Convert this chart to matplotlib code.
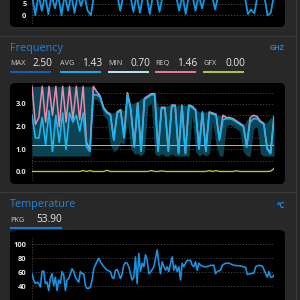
import matplotlib
matplotlib.use("Agg")
import matplotlib.pyplot as plt
from matplotlib.patches import FancyBboxPatch, Rectangle

# ---- data ----
# top (cut off) panel, load
load = [9, 0, 9, 2, 9, 0.5, 9, 3, 9, 0, 9, 2, 9, 1, 9, 4, 9, 2, 0, 9,
        9, 9, 9, 9, 9, 9, 9, 2, 9, 9, 9, 1.5, 9, 1, 9, 9, 0.5, 9, 9, 1.5,
        9, 9, 9, 9, 9, 2, 9, 0.5, 9, 9, 2, 9, 3, 9, 9, 9, 2.5, 9, 9, 9,
        9, 9, 9, 9, 9, 9, 0.5, 2.5, 0.8, 9, 9, 9, 0, 1, 9]
load_ticks = [0, 5]

# frequency panel (GHz)
freq_avg = [2.5, 1.5, 1.5, 2.4, 1.2, 2.7, 0.9, 2.5, 1.3, 2.6, 1.0, 2.6, 2.2, 2.5, 1.8, 2.6, 1.1, 0.9,
            3.4, 3.4, 3.3, 2.8, 2.6, 2.5, 1.4, 2.6, 2.7, 1.5, 3.45, 2.7, 1.1, 3.0, 0.9, 3.2, 3.3, 3.4,
            3.4, 0.9, 2.8, 2.8, 0.9, 2.9, 2.9, 0.8, 2.9, 0.8, 2.9, 2.85, 2.7, 1.0, 2.6, 0.9, 2.6, 2.55,
            2.5, 1.4, 2.3, 2.35, 2.35, 2.3, 2.2, 2.1, 2.0, 1.1, 2.2, 2.35, 2.35, 2.2, 2.1, 1.0, 0.8, 2.4]
freq_req = [3.78, 2.1, 2.4, 3.78, 2.2, 3.78, 2.5, 3.78, 2.0, 3.78, 2.2, 3.78, 2.3, 3.78, 2.3, 3.78, 1.3, 1.0,
            3.78, 3.55, 3.35, 2.85, 2.65, 2.55, 1.45, 2.65, 2.75, 1.55, 3.5, 2.75, 1.15, 3.05, 0.95, 3.25, 3.35, 3.45,
            3.45, 0.95, 2.85, 2.85, 0.95, 2.95, 2.95, 0.85, 2.95, 0.85, 2.95, 2.9, 2.75, 1.05, 2.65, 0.95, 2.65, 2.6,
            2.55, 1.45, 2.5, 2.4, 2.4, 2.35, 2.25, 2.15, 2.05, 1.15, 2.4, 2.5, 2.45, 2.25, 2.15, 1.05, 0.85, 2.45]
freq_max = [3.78] * 18 + [3.78, 3.55, 3.35, 2.9, 2.7, 2.6, 2.6, 2.7, 2.8, 2.7, 3.5, 3.0, 3.05, 3.1, 3.25, 3.3, 3.4, 3.45,
                          3.45, 2.9, 2.9, 2.9, 2.95, 2.95, 2.95, 2.95, 2.95, 2.95, 2.95, 2.9, 2.75, 2.65, 2.65, 2.65,
                          2.65, 2.6, 2.55, 2.5, 2.5, 2.4, 2.4, 2.35, 2.25, 2.15, 2.05, 2.3, 2.4, 2.5, 2.45, 2.25, 2.15,
                          2.2, 2.4, 2.45]
freq_min = [0.7] * 18 + [3.2, 3.2, 3.0, 2.5, 2.3, 1.2, 0.9, 1.0, 1.3, 1.2, 2.2, 1.0, 0.8, 0.8, 0.7, 0.9, 2.9, 3.0,
                         0.8, 0.7, 0.8, 0.7, 0.7, 0.8, 0.7, 0.7, 0.7, 0.7, 0.7, 2.5, 0.9, 0.7, 0.8, 0.7, 0.8, 2.2,
                         1.2, 0.7, 0.7, 2.0, 2.1, 2.0, 1.9, 1.8, 0.9, 0.7, 0.7, 1.9, 2.0, 0.8, 0.7, 0.7, 0.7, 0.7]
freq_gfx = [0.02, 0.02, 0.02, 0.02, 0.02, 0.02, 0.02, 0.02, 0.02, 0.02, 0.02, 0.02, 0.02, 0.02, 0.02, 0.06, 0.02, 0.06,
            0.02, 0.02, 0.02, 0.02, 0.07, 0.02, 0.02, 0.02, 0.02, 0.02, 0.02, 0.02, 0.02, 0.02, 0.02, 0.02, 0.02, 0.06,
            0.02, 0.02, 0.05, 0.02, 0.02, 0.02, 0.02, 0.02, 0.02, 0.02, 0.02, 0.02, 0.02, 0.02, 0.02, 0.02, 0.06, 0.02,
            0.06, 0.02, 0.02, 0.02, 0.02, 0.02, 0.05, 0.02, 0.02, 0.02, 0.02, 0.02, 0.02, 0.02, 0.02, 0.02, 0.03, 0.15]
freq_ref = 1.18
freq_ticks = [0.0, 1.0, 2.0, 3.0]
freq_stats = [("MAX", "2.50"), ("AVG", "1.43"), ("MIN", "0.70"), ("REQ", "1.46"), ("GFX", "0.00")]

# temperature panel (°C)
temp_t = list(range(0, 38)) + [39, 40, 41, 43, 45, 47] + list(range(48, 72)) + \
         [73, 75, 76, 77, 78, 79, 80, 81, 82, 83, 84, 85, 86, 87, 88, 89, 90, 91, 92, 93, 95, 96, 97, 98, 99,
          100, 101, 103, 105, 107, 109, 110, 111, 113, 114, 116, 118, 121, 125, 128, 129, 131, 133, 134, 136,
          138, 140, 141, 142, 143, 144, 145]
temp = [58, 49, 44, 46, 44, 39, 61, 62, 44, 46, 34, 51, 58, 41, 53, 34, 49, 44, 61, 56,
        34, 49, 51, 58, 65, 61, 53, 49, 46, 61, 58, 58, 41, 37, 37, 39, 49, 65, 76, 80,
        75, 68, 63, 61, 53, 51, 63, 64, 58, 51, 58, 70, 74, 73, 68, 58, 49, 53, 82, 44,
        87, 61, 73, 68, 85, 77, 58, 60,
        68, 92, 73, 58, 75, 68, 63, 68, 61, 73, 82, 63, 70, 61, 68, 49, 73, 68, 73, 77, 77,
        70, 68, 75, 63, 73, 70, 68, 68, 70, 70, 58, 61, 63, 70, 73, 73, 70, 69, 67, 57, 58,
        59, 68, 70, 69, 58, 53, 61, 53, 53, 56]
temp_ticks = [40, 60, 80, 100]
pkg_value = "53.90"

# ---- colours ----
BG = "#282828"
BLUE_TITLE = "#1d84dc"
stat_colors = ["#0b62b8", "#19aae6", "#b8e0f0", "#e27a9c", "#a6c83a"]

W = H = 300.0
fig = plt.figure(figsize=(3, 3), dpi=100, facecolor=BG)
plt.rcParams['font.family'] = ['Open Sans', 'DejaVu Sans']


def fig_ax(x0, y0, x1, y1):
    ax = fig.add_axes([x0 / W, 1 - y1 / H, (x1 - x0) / W, (y1 - y0) / H])
    ax.set_facecolor("none")
    for s in ax.spines.values():
        s.set_visible(False)
    ax.tick_params(length=0, labelsize=5.4, labelcolor="#e6e6e6", pad=4)
    ax.set_xticks([])
    return ax


def panel(x0, y0, x1, y1):
    fig.patches.append(FancyBboxPatch((x0 / W, 1 - y1 / H), (x1 - x0) / W, (y1 - y0) / H,
                                      boxstyle="round,pad=0,rounding_size=0.017",
                                      transform=fig.transFigure, facecolor="black",
                                      edgecolor="none", zorder=-1))


def hline(y, x0=0, x1=295):
    fig.add_artist(plt.Line2D([x0 / W, x1 / W], [1 - y / H, 1 - y / H], color="#3a3a3a", lw=0.8))


def txt(x, y, s, **kw):
    fig.text(x / W, 1 - y / H, s, **kw)


def bar(x0, x1, y, color):
    fig.patches.append(Rectangle((x0 / W, 1 - (y + 1.6) / H), (x1 - x0) / W, 1.6 / H,
                                 transform=fig.transFigure, facecolor=color, edgecolor="none"))


# structure
panel(10, -20, 285, 27)
panel(10, 83, 285, 184)
panel(10, 230, 285, 330)
hline(36)
hline(192)
fig.add_artist(plt.Line2D([295.5 / W, 295.5 / W], [0, 1], color="#3a3a3a", lw=0.8))

# ---- top panel ----
ax0 = fig_ax(32, 0, 274, 24)
ax0.plot(range(len(load)), load, color="#0f98e0", lw=1.3)
ax0.set_ylim(-3.9, 6.7)
ax0.set_xlim(0, len(load) - 1)
ax0.set_yticks(load_ticks)
ax0.set_yticklabels([str(t) for t in load_ticks], fontweight="bold")
for t in load_ticks:
    ax0.axhline(t, color="#555555", lw=0.6, ls=(0, (1.5, 2)), zorder=0)
ax0.axvline(0, color="#555555", lw=0.6, ls=(0, (1.5, 2)), zorder=0)

# ---- frequency ----
txt(10, 48, "Frequency", color=BLUE_TITLE, fontsize=7.8, va="center")
txt(285, 48, "GHZ", color=BLUE_TITLE, fontsize=5.2, fontweight="bold", va="center", ha="right")
stat_x = [10, 60, 108, 155, 203]
for (lab, val), x, c in zip(freq_stats, stat_x, stat_colors):
    txt(x, 63.5, lab, color="#cfcfcf", fontsize=5.2, va="center")
    txt(x + 42, 63, val, color="#e8e8e8", fontsize=7.3, va="center", ha="right")
    bar(x, x + 41, 71, c)

ax1 = fig_ax(32, 84, 274, 181)
xs = range(len(freq_avg))
ax1.fill_between(xs, freq_min, freq_max, color="#0c4352", lw=0, zorder=1)
ax1.axhline(freq_ref, color="#b4b4b4", lw=0.7, zorder=2)
ax1.plot(xs, freq_req, color="#e88aa8", lw=1.1, zorder=3)
ax1.plot(xs, freq_avg, color="#1cb6ef", lw=1.2, zorder=4)
ax1.plot(xs, freq_gfx, color="#a6c83a", lw=1.0, zorder=4)
ax1.set_ylim(-0.4, 3.88)
ax1.set_xlim(0, len(freq_avg) - 1)
ax1.set_yticks(freq_ticks)
ax1.set_yticklabels(["%.1f" % t for t in freq_ticks], fontweight="bold")
for g in [0.5, 1.0, 1.5, 2.0, 2.5, 3.0, 3.5]:
    ax1.axhline(g, color="#4a4a4a", lw=0.6, ls=(0, (1.5, 2)), zorder=0)
ax1.axvline(0, color="#4a4a4a", lw=0.6, ls=(0, (1.5, 2)), zorder=0)

# ---- temperature ----
txt(10, 204, "Temperature", color=BLUE_TITLE, fontsize=7.8, va="center")
txt(285, 205, "°C", color=BLUE_TITLE, fontsize=5.8, fontweight="bold", va="center", ha="right")
txt(10, 220, "PKG", color="#cfcfcf", fontsize=5.2, va="center")
txt(62, 219, pkg_value, color="#e8e8e8", fontsize=7.3, va="center", ha="right")
bar(10, 62, 227.3, "#1479d0")

ax2 = fig_ax(32, 238, 274, 300)
ax2.plot(temp_t, temp, color="#1a90de", lw=1.2)
ax2.set_xlim(0, 145)
ax2.set_ylim(100 - (300 - 244.3) * 20 / 14, 100 + (244.3 - 238) * 20 / 14)
ax2.set_yticks(temp_ticks)
ax2.set_yticklabels([str(t) for t in temp_ticks], fontweight="bold")
for g in [20] + temp_ticks:
    ax2.axhline(g, color="#4a4a4a", lw=0.6, ls=(0, (1.5, 2)), zorder=0)
ax2.axvline(0, color="#4a4a4a", lw=0.6, ls=(0, (1.5, 2)), zorder=0)

fig.savefig("out.png", dpi=100, facecolor=BG)
